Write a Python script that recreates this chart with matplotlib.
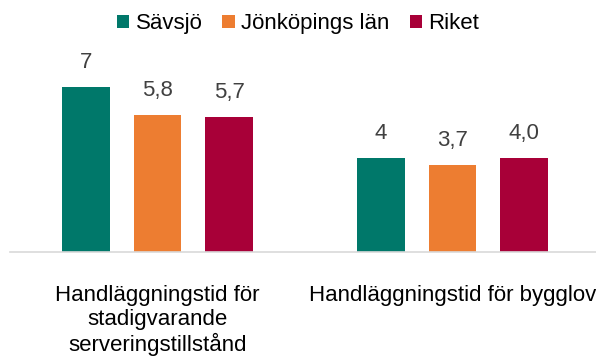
import numpy as np
import matplotlib
matplotlib.use('Agg')
import matplotlib.pyplot as plt

plt.rcParams['font.family'] = ['Liberation Sans', 'DejaVu Sans']

categories = ['Handläggningstid för\nstadigvarande\nserveringstillstånd',
              'Handläggningstid för bygglov']
series_names = ['Sävsjö', 'Jönköpings län', 'Riket']
values = [
    [7, 4],
    [5.8, 3.7],
    [5.7, 4.0],
]
value_labels = [
    ['7', '4'],
    ['5,8', '3,7'],
    ['5,7', '4,0'],
]
colors = ['#00786A', '#ED7D31', '#A80038']

fig = plt.figure(figsize=(5.96, 3.56), dpi=100)
ax = fig.add_axes([10 / 596, 104 / 356, 590 / 596, 189 / 356])

x = np.arange(len(categories))
width = 0.161
step = 0.243

for i, name in enumerate(series_names):
    pos = x + (i - 1) * step
    bars = ax.bar(pos, values[i], width, color=colors[i], label=name)
    for b, txt in zip(bars, value_labels[i]):
        ax.annotate(txt, (b.get_x() + b.get_width() / 2, b.get_height()),
                    xytext=(0, 10), textcoords='offset points',
                    ha='center', va='bottom', fontsize=16, color='#404040')

ax.set_xlim(-0.5, 1.5)
ax.set_ylim(0, 8)
ax.set_yticks([])
ax.set_xticks(x)
ax.set_xticklabels(categories, fontsize=16, color='#000000', linespacing=1.17)
ax.tick_params(axis='x', length=0, pad=24)
for side in ['top', 'right', 'left']:
    ax.spines[side].set_visible(False)
ax.spines['bottom'].set_color('#D9D9D9')
ax.spines['bottom'].set_linewidth(1.2)

fig.legend(loc='upper center', bbox_to_anchor=(0.5, 1.0), ncol=3, frameon=False,
           fontsize=16, handlelength=0.55, handleheight=0.55, handletextpad=0.3,
           columnspacing=0.9, borderaxespad=0.2)

fig.savefig('out.png', dpi=100)
